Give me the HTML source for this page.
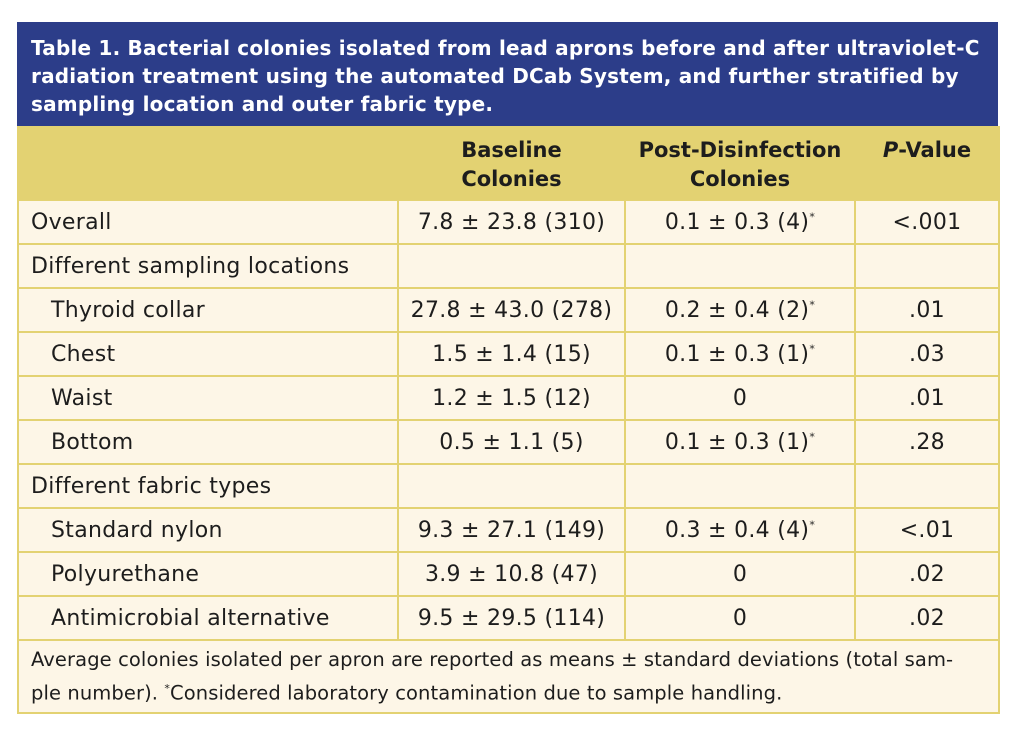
<!DOCTYPE html>
<html><head><meta charset="utf-8"><style>
body{margin:0;width:1014px;height:742px;background:#fff;font-family:"DejaVu Sans","Liberation Sans",sans-serif;}
#wrap{position:absolute;left:17px;top:22px;width:981px;}
#title{background:#2c3d89;color:#fff;font-weight:bold;font-size:20px;line-height:28px;padding:12px 12px 0 14px;height:92px;white-space:nowrap;letter-spacing:0.2px;}
table{border-collapse:collapse;width:981px;table-layout:fixed;font-size:22px;color:#1d1d1d;letter-spacing:0.3px;}
td,th{border:2px solid #e3d272;height:42px;padding:0;white-space:nowrap;}
th{background:#e3d272;font-weight:bold;font-size:21px;line-height:29px;height:63px;vertical-align:top;padding-top:8px;letter-spacing:0;}
td{background:#fdf6e7;}
td.c{text-align:center;}
td.l{padding-left:12px;}
td.i{padding-left:32px;}
td.f{font-size:19.5px;line-height:29px;padding:4px 12px 4px 12px;height:auto;letter-spacing:0.1px;}
sup{font-size:11px;}
</style></head><body>
<div id="wrap">
<div id="title">Table 1. Bacterial colonies isolated from lead aprons before and after ultraviolet-C<br>radiation treatment using the automated DCab System, and further stratified by<br>sampling location and outer fabric type.</div>
<table>
<colgroup><col style="width:380px"><col style="width:227px"><col style="width:230px"><col style="width:144px"></colgroup>
<tr><th></th><th>Baseline<br>Colonies</th><th>Post-Disinfection<br>Colonies</th><th><i>P</i>-Value</th></tr>
<tr><td class="l">Overall</td><td class="c">7.8 ± 23.8 (310)</td><td class="c">0.1 ± 0.3 (4)<sup>*</sup></td><td class="c">&lt;.001</td></tr>
<tr><td class="l">Different sampling locations</td><td></td><td></td><td></td></tr>
<tr><td class="i">Thyroid collar</td><td class="c">27.8 ± 43.0 (278)</td><td class="c">0.2 ± 0.4 (2)<sup>*</sup></td><td class="c">.01</td></tr>
<tr><td class="i">Chest</td><td class="c">1.5 ± 1.4 (15)</td><td class="c">0.1 ± 0.3 (1)<sup>*</sup></td><td class="c">.03</td></tr>
<tr><td class="i">Waist</td><td class="c">1.2 ± 1.5 (12)</td><td class="c">0</td><td class="c">.01</td></tr>
<tr><td class="i">Bottom</td><td class="c">0.5 ± 1.1 (5)</td><td class="c">0.1 ± 0.3 (1)<sup>*</sup></td><td class="c">.28</td></tr>
<tr><td class="l">Different fabric types</td><td></td><td></td><td></td></tr>
<tr><td class="i">Standard nylon</td><td class="c">9.3 ± 27.1 (149)</td><td class="c">0.3 ± 0.4 (4)<sup>*</sup></td><td class="c">&lt;.01</td></tr>
<tr><td class="i">Polyurethane</td><td class="c">3.9 ± 10.8 (47)</td><td class="c">0</td><td class="c">.02</td></tr>
<tr><td class="i">Antimicrobial alternative</td><td class="c">9.5 ± 29.5 (114)</td><td class="c">0</td><td class="c">.02</td></tr>
<tr><td colspan="4" class="f">Average colonies isolated per apron are reported as means ± standard deviations (total sam-<br>ple number). <sup>*</sup>Considered laboratory contamination due to sample handling.</td></tr>
</table>
</div>
</body></html>
